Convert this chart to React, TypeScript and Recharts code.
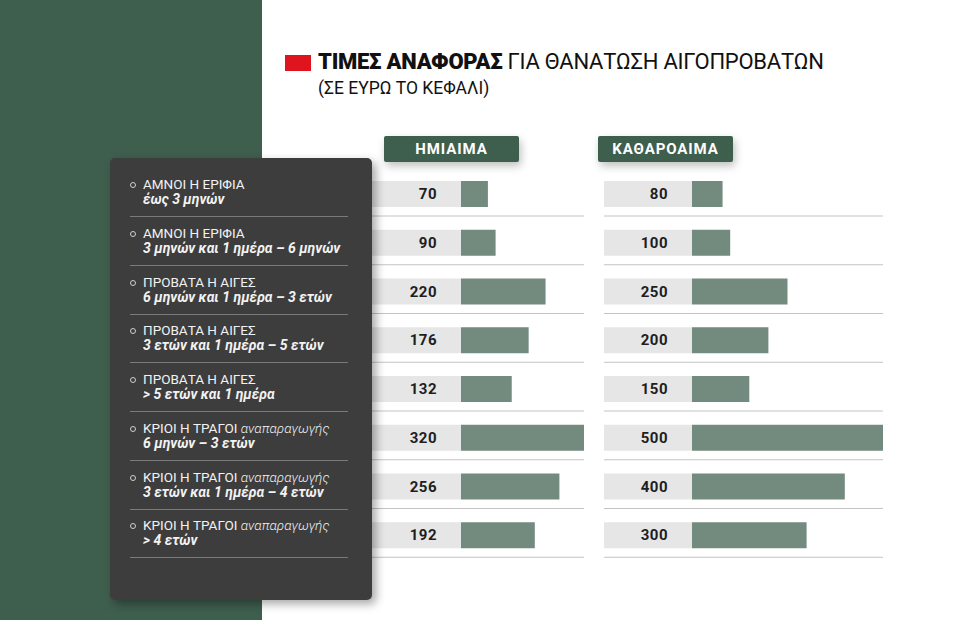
import React from "react";
import { BarChart, Bar, XAxis, YAxis, LabelList } from "recharts";

const categories = [
  "ΑΜΝΟΙ Η ΕΡΙΦΙΑ",
  "ΑΜΝΟΙ Η ΕΡΙΦΙΑ",
  "ΠΡΟΒΑΤΑ Η ΑΙΓΕΣ",
  "ΠΡΟΒΑΤΑ Η ΑΙΓΕΣ",
  "ΠΡΟΒΑΤΑ Η ΑΙΓΕΣ",
  "ΚΡΙΟΙ Η ΤΡΑΓΟΙ",
  "ΚΡΙΟΙ Η ΤΡΑΓΟΙ",
  "ΚΡΙΟΙ Η ΤΡΑΓΟΙ",
];
const categoryNotes = ["", "", "", "", "", "αναπαραγωγής", "αναπαραγωγής", "αναπαραγωγής"];
const ageRanges = [
  "έως 3 μηνών",
  "3 μηνών και 1 ημέρα – 6 μηνών",
  "6 μηνών και 1 ημέρα – 3 ετών",
  "3 ετών και 1 ημέρα – 5 ετών",
  "> 5 ετών και 1 ημέρα",
  "6 μηνών – 3 ετών",
  "3 ετών και 1 ημέρα – 4 ετών",
  "> 4 ετών",
];
const hemiaima = [70, 90, 220, 176, 132, 320, 256, 192];
const katharoaima = [80, 100, 250, 200, 150, 500, 400, 300];

const GREEN = "#3e5e4e";
const BAR = "#738a7e";
const GREY_BOX = "#e6e6e6";
const RULE = "#c4c4c4";

const ROW_TOP = 170;
const ROW_H = 48.75;
const CHART_H = 600;

// gray label box + separator drawn as the bar background
const makeBackground = (boxW: number) => (p: any) => {
  const { x, y, width, height } = p;
  return (
    <g key={`bg-${p.index}`}>
      <rect x={x - boxW} y={y} width={boxW} height={height} fill={GREY_BOX} />
      <line x1={x - boxW} x2={x + width} y1={y + height + 9} y2={y + height + 9} stroke={RULE} strokeWidth={1} />
    </g>
  );
};

const valueLabel = (p: any) => (
  <text
    x={p.x - 24}
    y={p.y + p.height / 2}
    dy={5}
    textAnchor="end"
    fontFamily="Roboto, sans-serif"
    fontWeight={700}
    fontSize={15}
    letterSpacing={0.5}
    fill="#1e1e1e"
  >
    {p.value}
  </text>
);

const Column = ({ values, boxW, plotW }: { values: number[]; boxW: number; plotW: number }) => {
  const data = categories.map((c, i) => ({ name: `${i}-${c}`, value: values[i] }));
  return (
    <BarChart
      width={boxW + plotW}
      height={CHART_H}
      data={data}
      layout="vertical"
      margin={{ top: ROW_TOP, bottom: CHART_H - ROW_TOP - ROW_H * 8, left: boxW, right: 0 }}
    >
      <XAxis type="number" domain={[0, "dataMax"]} hide />
      <YAxis type="category" dataKey="name" hide />
      <Bar dataKey="value" fill={BAR} barSize={26} isAnimationActive={false} background={makeBackground(boxW)}>
        <LabelList dataKey="value" content={valueLabel} />
      </Bar>
    </BarChart>
  );
};

const Header = ({ left, text }: { left: number; text: string }) => (
  <div
    style={{
      position: "absolute",
      left,
      top: 136,
      width: 135,
      height: 26,
      background: GREEN,
      borderRadius: 2,
      boxShadow: "2px 4px 8px rgba(0,0,0,0.25)",
      color: "#fff",
      fontWeight: 700,
      fontSize: 15,
      letterSpacing: 0.9,
      lineHeight: "26px",
      textAlign: "center",
    }}
  >
    {text}
  </div>
);

export default function App() {
  return (
    <div
      style={{
        position: "absolute",
        left: 0,
        top: 0,
        width: 960,
        height: 620,
        background: "#fff",
        overflow: "hidden",
        fontFamily: "Roboto, sans-serif",
      }}
    >
      <div style={{ position: "absolute", left: 0, top: 0, width: 262, height: 620, background: GREEN }} />

      {/* title */}
      <div style={{ position: "absolute", left: 285, top: 55, width: 26, height: 16, background: "#e0141e" }} />
      <div
        style={{
          position: "absolute",
          left: 318,
          top: 49,
          fontSize: 22,
          letterSpacing: -0.25,
          lineHeight: "26px",
          color: "#111",
          whiteSpace: "nowrap",
        }}
      >
        <span style={{ fontWeight: 900 }}>ΤΙΜΕΣ ΑΝΑΦΟΡΑΣ</span> ΓΙΑ ΘΑΝΑΤΩΣΗ ΑΙΓΟΠΡΟΒΑΤΩΝ
      </div>
      <div style={{ position: "absolute", left: 318, top: 77, fontSize: 17.5, lineHeight: "22px", color: "#111" }}>
        (ΣΕ ΕΥΡΩ ΤΟ ΚΕΦΑΛΙ)
      </div>

      <Header left={384} text="ΗΜΙΑΙΜΑ" />
      <Header left={598} text="ΚΑΘΑΡΟΑΙΜΑ" />

      <div style={{ position: "absolute", left: 372, top: 0 }}>
        <Column values={hemiaima} boxW={89} plotW={123} />
      </div>
      <div style={{ position: "absolute", left: 604, top: 0 }}>
        <Column values={katharoaima} boxW={88} plotW={191} />
      </div>

      {/* category panel */}
      <div
        style={{
          position: "absolute",
          left: 110,
          top: 158,
          width: 262,
          height: 442,
          background: "#3d3d3d",
          borderRadius: 5,
          boxShadow: "4px 4px 10px rgba(0,0,0,0.35)",
        }}
      >
        {categories.map((c, i) => {
          const top = ROW_TOP - 158 + i * ROW_H;
          return (
            <div key={i} style={{ position: "absolute", left: 0, top, width: 262, height: ROW_H }}>
              <div
                style={{
                  position: "absolute",
                  left: 20,
                  top: 12,
                  width: 4,
                  height: 4,
                  borderRadius: "50%",
                  border: "1.3px solid #cfcfcf",
                }}
              />
              <div style={{ position: "absolute", left: 33, top: 6, fontSize: 13.5, lineHeight: "16px", color: "#f2f2f2", whiteSpace: "nowrap" }}>
                {c}
                {categoryNotes[i] && <span style={{ fontStyle: "italic", fontWeight: 300 }}> {categoryNotes[i]}</span>}
              </div>
              <div
                style={{
                  position: "absolute",
                  left: 33,
                  top: 21,
                  fontSize: 14,
                  lineHeight: "16px",
                  color: "#f2f2f2",
                  fontWeight: 700,
                  fontStyle: "italic",
                  whiteSpace: "nowrap",
                }}
              >
                {ageRanges[i]}
              </div>
              <div style={{ position: "absolute", left: 20, top: 46, width: 218, height: 1, background: "#7a7a7a" }} />
            </div>
          );
        })}
      </div>
    </div>
  );
}
